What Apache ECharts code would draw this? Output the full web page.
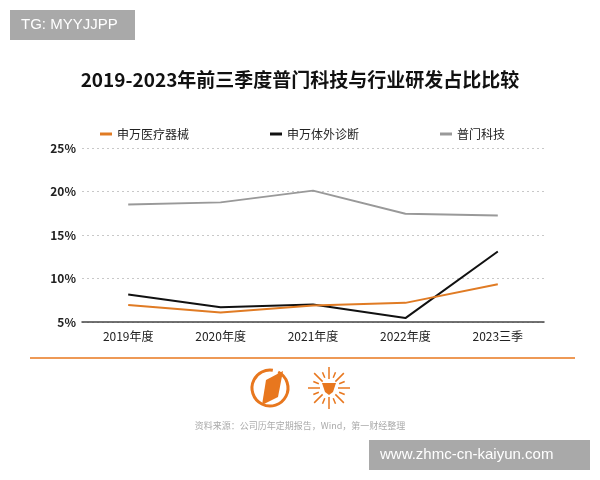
<!DOCTYPE html>
<html>
<head>
<meta charset="utf-8">
<script src="https://cdn.jsdelivr.net/npm/echarts@6/dist/echarts.min.js"></script>
<style>
  html, body { margin: 0; padding: 0; background: #fff; }
  #chart-container { width: 600px; height: 480px; }
</style>
</head>
<body>
<div id="chart-container"></div>
<script>
// 數據
var categories = ['2019年度', '2020年度', '2021年度', '2022年度', '2023三季'];
var seriesNames = ['申万医疗器械', '申万体外诊断', '普门科技'];
var medDevice = [6.95, 6.1, 6.9, 7.2, 9.35];   // 申万医疗器械
var ivd = [8.15, 6.7, 7.0, 5.45, 13.1];        // 申万体外诊断
var pumen = [18.5, 18.75, 20.1, 17.45, 17.25]; // 普门科技
var yTicks = [5, 10, 15, 20, 25];

var FONT = '"Noto Sans CJK SC", "Noto Sans", sans-serif';

var chart = echarts.init(document.getElementById('chart-container'));

// 裝飾: 太陽光線
var rays = [];
for (var i = 0; i < 16; i++) {
    var a = i * Math.PI / 8;
    var r1 = (i % 2 === 0) ? 9 : 11;
    var r2 = (i % 2 === 0) ? 21 : 17;
    rays.push({
        type: 'line',
        shape: { x1: 329 + r1 * Math.cos(a), y1: 388 + r1 * Math.sin(a), x2: 329 + r2 * Math.cos(a), y2: 388 + r2 * Math.sin(a) },
        style: { stroke: '#E8771E', lineWidth: 1.5 }
    });
}

var option = {
    backgroundColor: '#fff',
    title: {
        text: '2019-2023年前三季度普门科技与行业研发占比比较',
        left: 'center',
        top: 65,
        textStyle: { fontFamily: FONT, fontSize: 19, fontWeight: 'bold', color: '#111' }
    },
    legend: {
        left: 95,
        top: 123,
        itemGap: 81,
        itemWidth: 12,
        itemHeight: 3,
        icon: 'rect',
        data: seriesNames,
        textStyle: { fontFamily: FONT, fontSize: 12, color: '#222' }
    },
    grid: { left: 82, right: 56, top: 148, bottom: 158 },
    xAxis: {
        type: 'category',
        data: categories,
        boundaryGap: true,
        axisLine: { lineStyle: { color: '#444', width: 1.5 } },
        axisTick: { show: false },
        axisLabel: { fontFamily: FONT, fontSize: 12, color: '#222', margin: 8 }
    },
    yAxis: {
        type: 'value',
        min: yTicks[0],
        max: yTicks[yTicks.length - 1],
        interval: 5,
        axisLine: { show: false },
        axisTick: { show: false },
        axisLabel: { formatter: '{value}%', fontFamily: FONT, fontSize: 12, fontWeight: 'bold', color: '#222', margin: 6 },
        splitLine: { lineStyle: { color: '#c8c8c8', type: [2, 3], width: 1 } }
    },
    series: [
        { name: seriesNames[0], type: 'line', data: medDevice, symbol: 'none', color: '#E07B24', lineStyle: { width: 2 }, z: 4 },
        { name: seriesNames[1], type: 'line', data: ivd, symbol: 'none', color: '#111111', lineStyle: { width: 2 }, z: 3 },
        { name: seriesNames[2], type: 'line', data: pumen, symbol: 'none', color: '#999999', lineStyle: { width: 2 }, z: 2 }
    ],
    graphic: [
        // 左上水印
        { type: 'rect', shape: { x: 10, y: 10, width: 125, height: 30 }, style: { fill: '#a9a9a9' } },
        { type: 'text', x: 21, y: 17, style: { text: 'TG: MYYJJPP', fill: '#fff', font: '15px "Liberation Sans", sans-serif' } },
        // 橙色分隔線
        { type: 'line', shape: { x1: 30, y1: 358, x2: 575, y2: 358 }, style: { stroke: '#E8771E', lineWidth: 1.5 } },
        // 左 logo
        { type: 'arc', shape: { cx: 270, cy: 388, r: 18, startAngle: -Math.PI * 0.35, endAngle: Math.PI * 1.55 }, style: { stroke: '#E8771E', lineWidth: 3, fill: null } },
        { type: 'polygon', shape: { points: [[283, 371], [278, 397], [262, 405], [266, 380]] }, style: { fill: '#E8771E' } },
        // 右 logo
        { type: 'group', children: rays },
        { type: 'polygon', shape: { points: [[322, 383], [336, 383], [333, 392], [329, 395], [325, 392]] }, style: { fill: '#E8771E' } },
        // 資料來源
        { type: 'text', left: 'center', top: 421, style: { text: '资料来源：公司历年定期报告，Wind，第一财经整理', fill: '#aaaaaa', font: '9px "Noto Sans CJK SC", sans-serif' } },
        // 右下水印
        { type: 'rect', shape: { x: 369, y: 440, width: 221, height: 30 }, style: { fill: '#a9a9a9' } },
        { type: 'text', x: 380, y: 447, style: { text: 'www.zhmc-cn-kaiyun.com', fill: '#fff', font: '15px "Liberation Sans", sans-serif' } }
    ]
};

chart.setOption(option);
</script>
</body>
</html>
